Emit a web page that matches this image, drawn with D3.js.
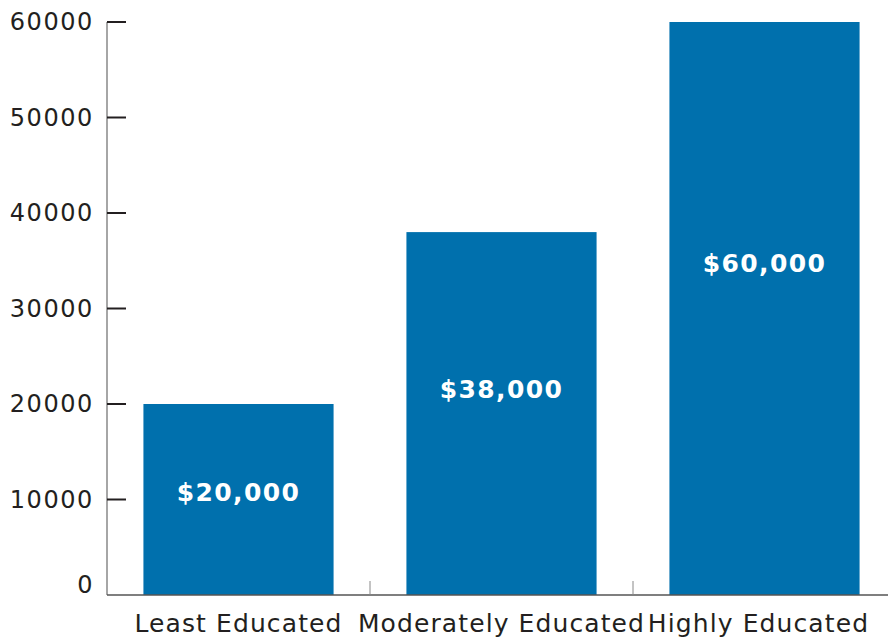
<!DOCTYPE html>
<html><head><meta charset="utf-8">
<script src="https://cdn.jsdelivr.net/npm/d3@7"></script>
<style>body{margin:0;background:#fff}svg{display:block}</style>
</head><body>
<svg id="c" width="888" height="639"></svg>
<script>
const categories = ["Least Educated", "Moderately Educated", "Highly Educated"];
const values = [20000, 38000, 60000];
const valueLabels = ["$20,000", "$38,000", "$60,000"];
const yTicks = [0, 10000, 20000, 30000, 40000, 50000, 60000];

(function(){
const svg = d3.select("#c");
const mLeft = 107, mRight = 896, mTop = 22, mBottom = 595;
const x = d3.scaleBand().domain(categories).range([mLeft, mRight]).paddingInner(0.277).paddingOuter(0.1385);
const xb = d3.scaleBand().domain(categories).range([mLeft, mRight]).padding(0);
const y = d3.scaleLinear().domain([0, 60000]).range([mBottom, mTop]);
const textColor = "#231f20";
const font = "'DejaVu Sans', sans-serif";

// bars
svg.selectAll("rect.bar").data(values).join("rect").attr("class","bar")
  .attr("x",(d,i)=>x(categories[i])).attr("width",x.bandwidth())
  .attr("y",d=>y(d)).attr("height",d=>y(0)-y(d)).attr("fill","#0070ad");

// value labels
svg.selectAll("text.val").data(values).join("text").attr("class","val")
  .attr("x",(d,i)=>x(categories[i])+x.bandwidth()/2)
  .attr("y",d=>y(d*0.6)+12).attr("dy","0.35em")
  .attr("text-anchor","middle").attr("fill","#fff")
  .attr("font-family",font).attr("font-weight","bold").attr("font-size",25)
  .attr("letter-spacing",1.4)
  .text((d,i)=>valueLabels[i]);

// y axis line
svg.append("line").attr("x1",mLeft).attr("x2",mLeft).attr("y1",mTop).attr("y2",mBottom)
  .attr("stroke","#888").attr("stroke-width",1.5);
// baseline
svg.append("line").attr("x1",mLeft).attr("x2",888).attr("y1",mBottom).attr("y2",mBottom)
  .attr("stroke","#555").attr("stroke-width",1.5);

// y ticks
svg.selectAll("line.yt").data(yTicks.filter(d=>d>0)).join("line").attr("class","yt")
  .attr("x1",mLeft).attr("x2",mLeft+19).attr("y1",d=>y(d)).attr("y2",d=>y(d))
  .attr("stroke","#231f20").attr("stroke-width",2);
svg.selectAll("text.yl").data(yTicks).join("text").attr("class","yl")
  .attr("x",94).attr("y",d=>d===0?y(d)-10:y(d)).attr("dy","0.35em")
  .attr("text-anchor","end").attr("fill",textColor)
  .attr("font-family",font).attr("font-size",24).attr("letter-spacing",1.6)
  .text(d=>d);

// category boundary ticks
svg.selectAll("line.xt").data(categories.slice(1)).join("line").attr("class","xt")
  .attr("x1",d=>xb(d)).attr("x2",d=>xb(d)).attr("y1",mBottom-14).attr("y2",mBottom)
  .attr("stroke","#888").attr("stroke-width",1);

// category labels
svg.selectAll("text.xl").data(categories).join("text").attr("class","xl")
  .attr("x",(d,i)=>xb(d)+xb.bandwidth()/2 - (i===2?6:0)).attr("y",632)
  .attr("text-anchor","middle").attr("fill",textColor)
  .attr("font-family",font).attr("font-size",25).attr("letter-spacing",1.1)
  .text(d=>d);
})();
</script>
</body></html>
